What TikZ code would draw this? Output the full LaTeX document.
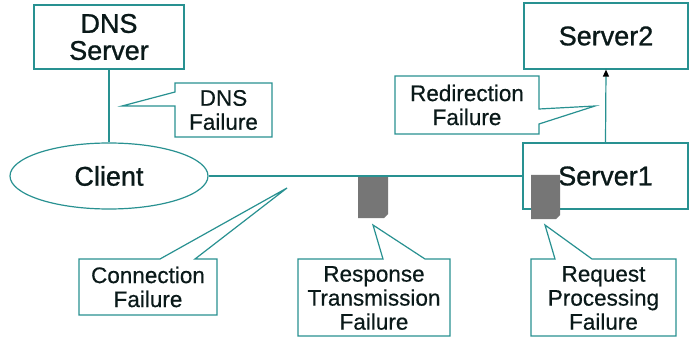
\documentclass[tikz,border=0pt]{standalone}
\usepackage{fontspec}
\setmainfont{Liberation Sans}
\newfontfamily\bigfont[FakeBold=1]{Liberation Sans}
\newfontfamily\smallfont[FakeBold=0.5]{Liberation Sans}
\usetikzlibrary{arrows.meta,shapes.geometric}
\definecolor{tealc}{RGB}{40,145,145}
\definecolor{txtc}{RGB}{10,25,25}
\definecolor{grayc}{RGB}{118,118,118}
\begin{document}
\begin{tikzpicture}[x=1pt,y=-1pt,
 ln/.style={draw=tealc,line width=1.2pt},
 big/.style={font=\bigfont\fontsize{27}{27}\selectfont,text=txtc,align=center},
 small/.style={font=\smallfont\fontsize{22.5}{24}\selectfont,text=txtc,align=center},
 box/.style={ln,big,inner sep=0pt,fill=white},
 callout/.style={ln,fill=white,line join=miter},
]
\useasboundingbox[fill=white] (0,0) rectangle (693,339);

% main boxes
\node (dns) [box,minimum width=150pt,minimum height=64pt] at (109,37) {DNS\\Server};
\node (client) [box,ellipse,minimum width=198pt,minimum height=66pt] at (109,176) {Client};
\node (server1) [box,minimum width=165pt,minimum height=66pt] at (605.5,176) {Server1};
\node (server2) [box,minimum width=164pt,minimum height=66pt] at (606,36) {Server2};

% gray blocks
\fill[grayc] (358,176) -- (388,176) -- (388,214) -- (384,218) -- (358,218) -- cycle;
\fill[grayc] (531,175) -- (560,175) -- (560,215) -- (556,219) -- (531,219) -- cycle;

% connectors
\draw[ln] (dns.south) -- (client.north);
\draw[ln] (client.east) -- (server1.west);
\draw[ln,-{Triangle[width=6pt,length=7pt,color=black]}] (server1.north) -- (server2.south);

% callouts
\draw[callout] (175,83) -- (272,83) -- (272,137) -- (175,137) -- (175,106) -- (122,106) -- (175,92) -- cycle;
\node (dnsf) [small] at (223.5,110) {DNS\\Failure};

\draw[callout] (395,76) -- (539,76) -- (539,109) -- (595,106) -- (539,124) -- (539,134) -- (395,134) -- cycle;
\node (redf) [small] at (467,105) {Redirection\\Failure};

\draw[callout] (79,259) -- (160,259) -- (287,188) -- (195,259) -- (217,259) -- (217,315) -- (79,315) -- cycle;
\node (conf) [small] at (148,287) {Connection\\Failure};

\draw[callout] (298,259) -- (383,259) -- (373,225) -- (425,259) -- (450,259) -- (450,336) -- (298,336) -- cycle;
\node (resf) [small] at (374,298) {Response\\Transmission\\Failure};

\draw[callout] (531,259) -- (555,259) -- (545,225) -- (592,259) -- (676,259) -- (676,336) -- (531,336) -- cycle;
\node (reqf) [small] at (603.5,298) {Request\\Processing\\Failure};
\end{tikzpicture}
\end{document}
